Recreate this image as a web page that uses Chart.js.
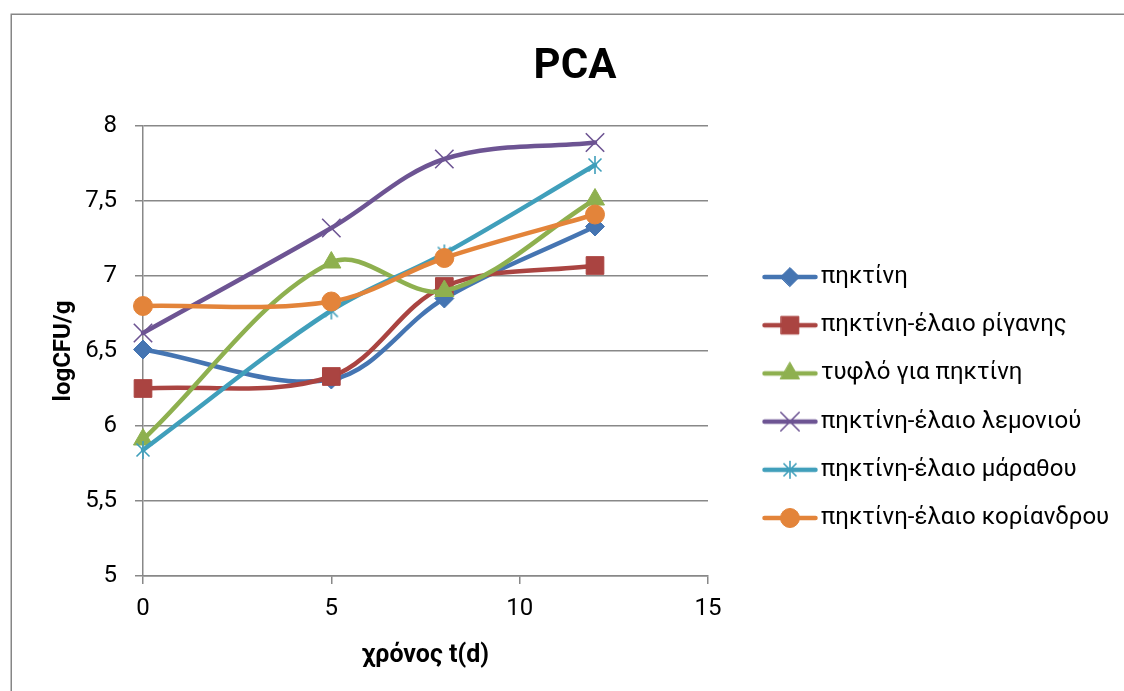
<!DOCTYPE html>
<html>
<head>
<meta charset="utf-8">
<script src="https://cdn.jsdelivr.net/npm/chart.js@4"></script>
<style>
    html, body { margin: 0; padding: 0; background: #fff; }
    canvas { display: block; }
</style>
</head>
<body>
<canvas id="chart" width="1124" height="691"></canvas>
<script>
// days of storage on the x axis
const days = [0, 5, 8, 12];

const seriesNames = [
    'πηκτίνη',
    'πηκτίνη-έλαιο ρίγανης',
    'τυφλό για πηκτίνη',
    'πηκτίνη-έλαιο λεμονιού',
    'πηκτίνη-έλαιο μάραθου',
    'πηκτίνη-έλαιο κορίανδρου'
];

// logCFU/g per series
const pektini = [6.51, 6.31, 6.85, 7.33];
const rigani = [6.25, 6.33, 6.93, 7.07];
const tyflo = [5.91, 7.09, 6.90, 7.51];
const lemoni = [6.62, 7.32, 7.78, 7.89];
const marathos = [5.84, 6.77, 7.15, 7.74];
const koriandros = [6.80, 6.83, 7.12, 7.41];

const xTicks = [0, 5, 10, 15];
const yTicks = [5, 5.5, 6, 6.5, 7, 7.5, 8];

const FONT = 'Roboto';
const GRID = '#888888';

// excel-like asterisk marker (X plus a vertical bar)
function asterisk(color) {
    const c = document.createElement('canvas');
    c.width = 22;
    c.height = 22;
    const g = c.getContext('2d');
    g.strokeStyle = color;
    g.lineWidth = 1.6;
    g.beginPath();
    g.moveTo(11, 2); g.lineTo(11, 20);
    g.moveTo(4.5, 4.5); g.lineTo(17.5, 17.5);
    g.moveTo(17.5, 4.5); g.lineTo(4.5, 17.5);
    g.stroke();
    return c;
}

const styles = [
    { color: '#4575B2', marker: 'rectRot', radius: 9.5 },
    { color: '#AA4441', marker: 'rect', radius: 12.5 },
    { color: '#8EB04F', marker: 'triangle', radius: 11 },
    { color: '#6D5493', marker: 'crossRot', radius: 13 },
    { color: '#409FBB', marker: asterisk('#409FBB'), radius: 9 },
    { color: '#E3843A', marker: 'circle', radius: 9.5 }
];

const values = [pektini, rigani, tyflo, lemoni, marathos, koriandros];

// legend icon: short line with the marker in the middle
function legendIcon(style) {
    const c = document.createElement('canvas');
    c.width = 56;
    c.height = 26;
    const g = c.getContext('2d');
    g.strokeStyle = style.color;
    g.fillStyle = style.color;
    g.lineCap = 'round';
    g.lineWidth = 4.5;
    g.beginPath();
    g.moveTo(2.5, 13);
    g.lineTo(53.5, 13);
    g.stroke();
    if (typeof style.marker === 'string') {
        g.lineWidth = style.marker === 'crossRot' ? 1.6 : 1;
        Chart.helpers.drawPoint(g, {
            pointStyle: style.marker,
            radius: style.radius,
            rotation: 0,
            borderWidth: g.lineWidth
        }, 28, 13);
    } else {
        g.drawImage(style.marker, 28 - style.marker.width / 2, 13 - style.marker.height / 2);
    }
    return c;
}
const legendIcons = styles.map(legendIcon);

const datasets = seriesNames.map((name, i) => ({
    label: name,
    data: days.map((d, j) => ({ x: d, y: values[i][j] })),
    showLine: true,
    tension: 0.35,
    borderColor: styles[i].color,
    backgroundColor: styles[i].color,
    borderWidth: 4.5,
    borderCapStyle: 'round',
    borderJoinStyle: 'round',
    pointStyle: styles[i].marker,
    pointRadius: styles[i].radius,
    pointHoverRadius: styles[i].radius,
    pointBackgroundColor: styles[i].color,
    pointBorderColor: styles[i].color,
    pointBorderWidth: styles[i].marker === 'crossRot' ? 1.6 : 1,
    order: seriesNames.length - i,
    clip: false
}));

const frame = {
    id: 'frame',
    beforeDraw(chart) {
        const c = chart.ctx;
        c.save();
        c.strokeStyle = '#868686';
        c.lineWidth = 1.5;
        c.strokeRect(11.25, 14.25, 1400, 1000);
        c.restore();
    }
};

// excel style legend to the right of the plot
const sideLegend = {
    id: 'sideLegend',
    afterDraw(chart) {
        const c = chart.ctx;
        c.save();
        c.font = '24px ' + FONT;
        c.fillStyle = '#000';
        c.textBaseline = 'middle';
        c.textAlign = 'left';
        chart.data.datasets.forEach((ds, i) => {
            const y = 277 + i * 48.2;
            c.drawImage(legendIcons[i], 762, y - 13);
            c.fillText(ds.label, 821, y);
        });
        c.restore();
    }
};

Chart.defaults.font.family = FONT;
Chart.defaults.color = '#000';

new Chart(document.getElementById('chart'), {
    type: 'scatter',
    data: { datasets: datasets },
    plugins: [frame, sideLegend],
    options: {
        responsive: false,
        animation: false,
        layout: { padding: { left: 26, top: 0, right: 0, bottom: 0 } },
        plugins: {
            tooltip: { enabled: false },
            legend: { display: false },
            title: {
                display: true,
                text: 'PCA',
                font: { size: 42, weight: 'bold', lineHeight: 1.2 },
                padding: { top: 42, bottom: 33.6 }
            }
        },
        scales: {
            x: {
                type: 'linear',
                position: 'bottom',
                min: 0,
                max: 15,
                afterBuildTicks: scale => { scale.ticks = xTicks.map(v => ({ value: v })); },
                afterFit: scale => { scale.height = 115; },
                ticks: { font: { size: 24 }, padding: 11, color: '#000' },
                grid: { drawOnChartArea: false, drawTicks: true, tickLength: 8, color: GRID, lineWidth: 1.5 },
                border: { color: GRID, width: 1.5 },
                title: {
                    display: true,
                    text: 'χρόνος t(d)',
                    font: { size: 25, weight: 'bold', lineHeight: 1 },
                    padding: { top: 0, bottom: 23 }
                }
            },
            y: {
                type: 'linear',
                position: 'left',
                min: 5,
                max: 8,
                afterBuildTicks: scale => { scale.ticks = yTicks.map(v => ({ value: v })); },
                afterFit: scale => { scale.width = 117; },
                ticks: {
                    font: { size: 24 },
                    padding: 18,
                    color: '#000',
                    callback: v => String(v).replace('.', ',')
                },
                grid: { drawTicks: true, tickLength: 8, color: GRID, lineWidth: 1.5 },
                border: { color: GRID, width: 1.5 },
                title: {
                    display: true,
                    text: 'logCFU/g',
                    font: { size: 24, weight: 'bold', lineHeight: 1 },
                    padding: { top: 26, bottom: 0 }
                }
            },
            // empty axis that keeps the legend column free
            gap: {
                type: 'linear',
                position: 'right',
                afterFit: scale => { scale.width = 416; },
                ticks: { display: false },
                grid: { display: false },
                border: { display: false }
            }
        }
    }
});
</script>
</body>
</html>
